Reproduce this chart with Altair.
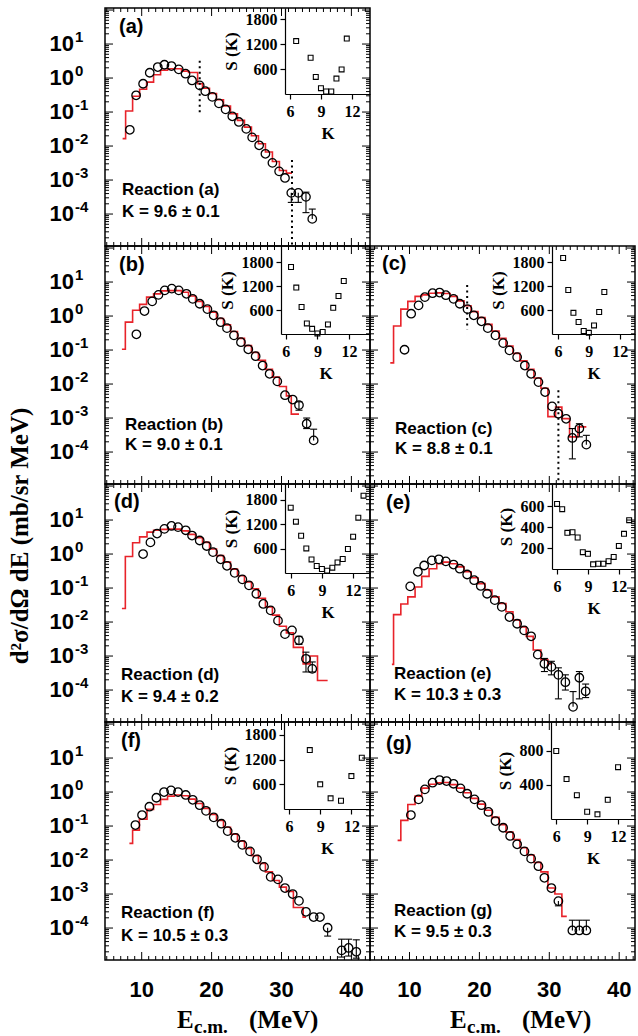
import altair as alt
import pandas as pd

# ---------------- layout constants ----------------
W, H = 265, 238
Y_DOMAIN = [1.148e-5, 114.8]
X_DOMAIN_L = [4.75, 42.66]
X_DOMAIN_R = [4.35, 42.26]
RED = "#e8232a"
SANS = "Liberation Sans"
SERIF = "Liberation Serif"

# ---------------- data ----------------
# (a)
a_e = [8.3, 9.2, 10.2, 11.15, 12.3, 13.25, 14.26, 15.3, 16.27, 17.2, 18.3, 19.1, 20.1, 21.05,
       22.0, 22.96, 23.9, 24.96, 25.8, 26.8, 27.7, 28.7, 29.66, 30.5, 31.4, 32.4, 33.5, 34.4]
a_sig = [0.030, 0.31, 0.68, 1.43, 2.1, 2.46, 2.25, 1.8, 1.34, 0.85, 0.61, 0.41, 0.28, 0.18,
         0.12, 0.075, 0.051, 0.032, 0.018, 0.0105, 0.0059, 0.0032, 0.0018, 0.00115, 4.2e-4, 4.2e-4, 3.2e-4, 7.2e-5]
a_fit_e = [7.27, 7.7, 8.7, 9.7, 10.7, 11.7, 12.7, 13.7, 14.7, 15.7, 16.7, 18.0, 18.7, 19.7, 20.7,
           21.7, 22.7, 23.7, 24.7, 25.7, 26.7, 27.7, 28.7, 29.7, 30.7, 31.5]
a_fit = [0.0165, 0.107, 0.29, 0.47, 0.76, 1.25, 1.7, 1.88, 1.88, 1.6, 1.45, 0.68, 0.5, 0.35, 0.23,
         0.15, 0.089, 0.057, 0.036, 0.020, 0.0117, 0.0067, 0.0035, 0.0019, 0.0016, 0.0016]
a_err_e = [31.4, 32.4, 33.5, 34.4]
a_err_v = [4.2e-4, 4.2e-4, 3.2e-4, 7.2e-5]
a_err_lo = [2.2e-4, 2.2e-4, 1.1e-4, 7.2e-5]
a_err_hi = [4.2e-4, 4.2e-4, 4.4e-4, 1.4e-4]
a_dot_e = [18.3, 31.5]
a_dot_top = [3.2, 0.0039]
a_dot_bot = [0.087, 1.2e-5]
a_K = [6.6, 8.0, 8.5, 9.0, 9.5, 10.0, 10.5, 11.0, 11.5]
a_S = [1270, 870, 410, 140, 60, 60, 370, 590, 1330]

# (b)
b_e = [9.24, 10.4, 11.5, 12.4, 13.3, 14.3, 15.3, 16.4, 17.3, 18.3, 19.4, 20.3, 21.3, 22.2, 23.2,
       24.2, 25.25, 26.3, 27.3, 28.3, 29.4, 30.5, 31.6, 32.5, 33.6, 34.6]
b_sig = [0.29, 1.4, 2.7, 4.2, 5.7, 6.4, 5.7, 4.5, 3.2, 2.3, 1.6, 1.05, 0.66, 0.44, 0.27,
         0.17, 0.105, 0.066, 0.035, 0.020, 0.012, 0.0047, 0.0035, 0.0024, 6.8e-4, 2.2e-4]
b_fit_e = [7.17, 7.66, 8.7, 9.7, 10.7, 11.7, 12.7, 13.7, 14.7, 15.7, 16.7, 17.7, 18.7, 19.7, 20.7,
           21.7, 22.7, 23.7, 24.7, 25.7, 26.7, 27.7, 28.7, 29.7, 30.7, 31.4, 32.5]
b_fit = [0.105, 0.66, 1.48, 2.2, 3.6, 4.5, 5.5, 5.6, 5.6, 5.0, 3.9, 2.7, 1.9, 1.3, 0.85,
         0.55, 0.35, 0.22, 0.135, 0.085, 0.05, 0.027, 0.016, 0.0085, 0.0045, 0.0013, 0.0013]
b_err_e = [32.5, 33.6, 34.6]
b_err_v = [0.0024, 6.8e-4, 2.2e-4]
b_err_lo = [0.0017, 4.9e-4, 2.2e-4]
b_err_hi = [0.0030, 1.0e-3, 4.7e-4]
b_K = [6.5, 7.0, 7.5, 8.0, 8.5, 9.0, 9.5, 10.0, 10.5, 11.0, 11.5]
b_S = [1675, 1160, 675, 265, 130, 15, 50, 240, 655, 950, 1325]

# (c)
c_e = [9.29, 10.24, 11.3, 12.2, 13.3, 14.3, 15.2, 16.3, 17.2, 18.3, 19.2, 20.3, 21.2, 22.3, 23.4,
       24.3, 25.4, 26.5, 27.4, 28.45, 29.4, 30.4, 31.3, 32.4, 33.3, 34.3, 35.3]
c_sig = [0.102, 1.17, 2.06, 3.6, 4.7, 4.9, 4.1, 3.2, 2.3, 1.6, 1.05, 0.70, 0.44, 0.27, 0.16,
         0.098, 0.062, 0.035, 0.020, 0.0114, 0.0058, 0.0022, 0.00134, 9.5e-4, 2.6e-4, 4.9e-4, 1.65e-4]
c_fit_e = [7.25, 7.72, 8.76, 9.76, 10.8, 11.75, 12.8, 13.8, 14.8, 15.8, 16.8, 17.8, 18.8, 19.8, 20.8,
           21.8, 22.8, 23.8, 24.8, 25.8, 26.8, 27.8, 28.8, 29.8, 30.9, 31.8, 32.9, 34.1, 35.3]
c_fit = [0.042, 0.51, 1.6, 2.7, 3.8, 4.2, 4.7, 4.8, 4.6, 3.8, 2.8, 2.0, 1.35, 0.9, 0.57,
         0.36, 0.22, 0.13, 0.08, 0.048, 0.027, 0.015, 0.0075, 0.0011, 0.0021, 0.00096, 0.00028, 0.00055, 0.00055]
c_err_e = [33.3, 34.3, 35.3]
c_err_v = [2.6e-4, 4.9e-4, 1.65e-4]
c_err_lo = [6.3e-5, 2.8e-4, 1.65e-4]
c_err_hi = [4.9e-4, 6.8e-4, 3.1e-4]
c_dot_e = [18.25, 31.3]
c_dot_top = [8.2, 0.0066]
c_dot_bot = [0.41, 1.2e-5]
c_K = [6.5, 7.0, 7.5, 8.0, 8.5, 9.0, 9.5, 10.0, 10.5]
c_S = [1900, 1100, 530, 300, 75, 30, 215, 550, 1050]

# (d)
d_e = [10.2, 11.25, 12.2, 13.25, 14.26, 15.2, 16.3, 17.2, 18.3, 19.3, 20.2, 21.3, 22.2, 23.3, 24.4,
       25.35, 26.4, 27.4, 28.45, 29.5, 30.5, 31.5, 32.5, 33.5, 34.4]
d_sig = [1.0, 2.2, 4.0, 5.5, 6.7, 6.2, 5.0, 3.5, 2.5, 1.72, 1.14, 0.70, 0.45, 0.28, 0.18,
         0.12, 0.068, 0.034, 0.022, 0.011, 0.0044, 0.0057, 0.0029, 8.3e-4, 4.2e-4]
d_fit_e = [7.17, 7.66, 8.7, 9.7, 10.76, 11.7, 12.7, 13.7, 14.7, 15.7, 16.7, 17.7, 18.7, 19.7, 20.7,
           21.7, 22.7, 23.7, 24.7, 25.7, 26.7, 27.7, 28.7, 29.7, 30.7, 31.7, 33.1, 34.1, 35.15, 36.6]
d_fit = [0.025, 0.85, 2.15, 3.2, 4.4, 5.0, 5.3, 5.4, 5.4, 4.8, 3.8, 3.0, 2.2, 1.4, 0.9,
         0.58, 0.36, 0.23, 0.15, 0.095, 0.05, 0.028, 0.016, 0.0075, 0.0048, 0.0018, 0.00059, 0.001, 0.00019, 0.00019]
d_err_e = [32.5, 33.5, 34.4]
d_err_v = [0.0029, 8.3e-4, 4.2e-4]
d_err_lo = [0.0022, 3.4e-4, 3.4e-4]
d_err_hi = [0.0038, 1.3e-3, 6.7e-4]
d_K = [6.0, 6.5, 7.0, 7.5, 8.0, 8.5, 9.0, 9.5, 10.0, 10.5, 11.0, 11.5, 12.0, 12.5, 13.0]
d_S = [1600, 1257, 913, 603, 333, 171, 98, 56, 130, 260, 343, 588, 889, 1354, 1893]

# (e)
e_e = [10.1, 11.2, 12.1, 13.2, 14.2, 15.2, 16.3, 17.2, 18.25, 19.25, 20.2, 21.1, 22.2, 23.2, 24.3,
       25.4, 26.4, 27.4, 28.35, 29.3, 30.3, 31.3, 32.3, 33.4, 34.3, 35.2]
e_sig = [0.112, 0.30, 0.46, 0.65, 0.70, 0.61, 0.49, 0.37, 0.25, 0.17, 0.115, 0.068, 0.044, 0.028, 0.014,
         0.0089, 0.0057, 0.0038, 0.0011, 5.9e-4, 4.8e-4, 2.8e-4, 1.7e-4, 3.2e-5, 2.3e-4, 9.2e-5]
e_fit_e = [7.48, 7.72, 8.76, 9.76, 10.8, 11.75, 12.8, 13.9, 14.8, 15.8, 16.8, 17.8, 18.8, 19.8, 20.8,
           21.8, 22.8, 23.8, 24.8, 25.8, 26.7, 27.7, 28.8, 29.8, 30.4]
e_fit = [0.00057, 0.0165, 0.034, 0.055, 0.107, 0.22, 0.37, 0.52, 0.58, 0.52, 0.42, 0.3, 0.2, 0.135, 0.088,
         0.055, 0.035, 0.02, 0.0115, 0.0072, 0.0038, 0.0015, 0.00079, 0.00059, 0.00059]
e_err_e = [29.3, 30.3, 31.3, 32.3, 33.4, 34.3, 35.2]
e_err_v = [5.9e-4, 4.8e-4, 2.8e-4, 1.7e-4, 3.2e-5, 2.3e-4, 9.2e-5]
e_err_lo = [3.5e-4, 2.8e-4, 5.5e-5, 1.0e-4, 3.2e-5, 5.5e-5, 6.0e-5]
e_err_hi = [8.5e-4, 7.0e-4, 4.5e-4, 2.8e-4, 9.0e-5, 3.5e-4, 1.5e-4]
e_K = [6.0, 6.5, 7.0, 7.5, 8.0, 8.5, 9.0, 9.5, 10.0, 10.5, 11.0, 11.5, 12.0, 12.5, 13.0]
e_S = [620, 570, 345, 350, 300, 160, 145, 45, 50, 50, 75, 115, 220, 335, 465]

# (f)
f_e = [9.1, 10.05, 11.1, 12.1, 13.2, 14.2, 15.2, 16.3, 17.3, 18.3, 19.2, 20.3, 21.4, 22.3, 23.4,
       24.4, 25.5, 26.5, 27.5, 28.45, 29.5, 30.5, 31.6, 32.5, 33.5, 34.6, 35.5, 36.6, 38.6, 39.6, 40.7]
f_sig = [0.107, 0.21, 0.37, 0.68, 1.0, 1.12, 1.0, 0.82, 0.59, 0.41, 0.28, 0.18, 0.117, 0.071, 0.045,
         0.028, 0.018, 0.0105, 0.0063, 0.0032, 0.0027, 0.0015, 0.0010, 6.3e-4, 3.0e-4, 2.1e-4, 2.1e-4,
         1.02e-4, 2.2e-5, 2.6e-5, 2.0e-5]
f_fit_e = [8.24, 8.7, 9.67, 10.76, 11.7, 12.7, 13.7, 14.7, 15.7, 16.7, 17.7, 18.7, 19.7, 20.7, 21.7,
           22.7, 23.7, 24.7, 25.7, 26.7, 27.7, 28.7, 29.7, 30.7, 31.7, 33.1, 33.5]
f_fit = [0.031, 0.076, 0.158, 0.31, 0.43, 0.61, 0.76, 0.82, 0.78, 0.62, 0.46, 0.33, 0.22, 0.145, 0.092,
         0.058, 0.036, 0.022, 0.0135, 0.008, 0.0045, 0.0025, 0.0016, 0.0012, 0.0004, 0.00021, 0.00021]
f_err_e = [36.6, 38.6, 39.6, 40.7]
f_err_v = [1.02e-4, 2.2e-5, 2.6e-5, 2.0e-5]
f_err_lo = [5.8e-5, 1.4e-5, 1.5e-5, 1.3e-5]
f_err_hi = [1.02e-4, 4.7e-5, 4.7e-5, 4.5e-5]
f_K = [8, 9, 10, 11, 12, 13]
f_S = [1430, 600, 260, 200, 800, 1245]

# (g)
g_e = [10.2, 11.3, 12.2, 13.3, 14.3, 15.3, 16.3, 17.3, 18.25, 19.3, 20.3, 21.3, 22.3, 23.4, 24.4,
       25.4, 26.45, 27.4, 28.45, 29.3, 30.3, 31.3, 33.3, 34.3, 35.3]
g_sig = [0.21, 0.61, 1.2, 1.88, 2.25, 2.1, 1.75, 1.28, 0.89, 0.61, 0.41, 0.26, 0.14, 0.089, 0.051,
         0.029, 0.018, 0.011, 0.0066, 0.0030, 0.0015, 6.2e-4, 8.5e-5, 8.5e-5, 8.5e-5]
g_fit_e = [8.3, 8.76, 9.76, 10.8, 11.75, 12.8, 13.8, 14.8, 15.8, 16.8, 17.8, 18.8, 19.8, 20.8, 21.8,
           22.8, 23.8, 24.8, 25.8, 26.8, 27.8, 28.8, 29.8, 30.8, 31.8, 32.5]
g_fit = [0.038, 0.147, 0.43, 0.76, 1.3, 1.7, 1.86, 1.9, 1.65, 1.3, 0.95, 0.65, 0.44, 0.29, 0.18,
         0.11, 0.066, 0.04, 0.023, 0.014, 0.0085, 0.0045, 0.0015, 0.001, 0.00022, 0.00022]
g_err_e = [31.3, 33.3, 34.3, 35.3]
g_err_v = [6.2e-4, 8.5e-5, 8.5e-5, 8.5e-5]
g_err_lo = [4.5e-4, 8.5e-5, 8.5e-5, 8.5e-5]
g_err_hi = [6.2e-4, 1.7e-4, 1.7e-4, 1.7e-4]
g_K = [6, 7, 8, 9, 10, 11, 12]
g_S = [800, 470, 280, 85, 55, 225, 610]

# panel captions
tags = ["(a)", "(b)", "(c)", "(d)", "(e)", "(f)", "(g)"]
reactions = ["Reaction (a)", "Reaction (b)", "Reaction (c)", "Reaction (d)",
             "Reaction (e)", "Reaction (f)", "Reaction (g)"]
k_fits = ["K = 9.6  \u00b1 0.1", "K = 9.0  \u00b1 0.1", "K = 8.8  \u00b1 0.1", "K = 9.4 \u00b1 0.2",
          "K = 10.3 \u00b1 0.3", "K = 10.5 \u00b1 0.3", "K = 9.5 \u00b1 0.3"]

# axis tick positions
x_major = [10, 20, 30, 40]
x_major_labels = ["10", "20", "30", "40"]
x_minor = [5, 6, 7, 8, 9, 11, 12, 13, 14, 15, 16, 17, 18, 19, 21, 22, 23, 24, 25, 26, 27, 28, 29,
           31, 32, 33, 34, 35, 36, 37, 38, 39, 41, 42]
y_major = [1e-4, 1e-3, 1e-2, 1e-1, 1.0, 10.0, 100.0]
y_label_vals = [10.0, 1.0, 1e-1, 1e-2, 1e-3, 1e-4]
y_label_exp = ["1", "0", "-1", "-2", "-3", "-4"]
y_minor = [m * 10.0 ** p for p in range(-5, 2) for m in range(2, 10)
           if Y_DOMAIN[0] <= m * 10.0 ** p <= Y_DOMAIN[1]]


def xenc(field, dom):
    return alt.X(f"{field}:Q", scale=alt.Scale(domain=dom, nice=False, zero=False), axis=None)


def yenc(field):
    return alt.Y(f"{field}:Q", scale=alt.Scale(type="log", domain=Y_DOMAIN, nice=False), axis=None)


def txt(s, x, y, size, font=SANS, align="left", angle=0):
    return alt.Chart(pd.DataFrame({"t": [s]})).mark_text(
        font=font, fontWeight="bold", fontSize=size, align=align, baseline="middle",
        color="black", angle=angle
    ).encode(text="t:N", x=alt.value(x), y=alt.value(y))


def frame_ticks(dom):
    out = []
    for vals, ln in ((x_major, 8), (x_minor, 4)):
        d = pd.DataFrame({"v": vals})
        out.append(alt.Chart(d).mark_rule(color="black", strokeWidth=1).encode(
            x=xenc("v", dom), y=alt.value(H), y2=alt.value(H - ln)))
        out.append(alt.Chart(d).mark_rule(color="black", strokeWidth=1).encode(
            x=xenc("v", dom), y=alt.value(0), y2=alt.value(ln)))
    for vals, ln in ((y_major, 8), (y_minor, 4)):
        d = pd.DataFrame({"v": vals})
        out.append(alt.Chart(d).mark_rule(color="black", strokeWidth=1).encode(
            y=yenc("v"), x=alt.value(0), x2=alt.value(ln)))
        out.append(alt.Chart(d).mark_rule(color="black", strokeWidth=1).encode(
            y=yenc("v"), x=alt.value(W), x2=alt.value(W - ln)))
    return out


def inset(K, S, geom):
    L, B, k0, kpx, smax, sticks = geom
    kmax = k0 + (W - L) / kpx
    ax_common = dict(
        domainColor="black", domainWidth=1.2, tickColor="black", tickWidth=1.2, tickSize=5,
        labelFont=SERIF, labelFontWeight="bold", labelFontSize=16, labelColor="black",
        titleFont=SERIF, titleFontWeight="bold", titleFontSize=17, titleColor="black",
        grid=False, labelFlush=False, labelOverlap=False, format="d",
    )
    return alt.Chart(pd.DataFrame({"k": K, "s": S})).mark_point(
        shape="square", filled=False, color="black", size=24, strokeWidth=1.1, opacity=1
    ).encode(
        x=alt.X("k:Q", scale=alt.Scale(domain=[k0, kmax], range=[L, W], nice=False, zero=False),
                axis=alt.Axis(orient="bottom", offset=-(H - B), values=[6, 9, 12], title="K",
                              labelPadding=4, titlePadding=6, **ax_common)),
        y=alt.Y("s:Q", scale=alt.Scale(domain=[0, smax], range=[B, 0], nice=False, zero=False),
                axis=alt.Axis(orient="left", offset=-L, values=sticks, title="S (K)",
                              labelPadding=3, titlePadding=5, **ax_common)),
    )


def panel(idx, e, sig, fit_e, fit, err, dots, K, S, geom, dom, tagpos, textpos,
          left=False, bottom=False, extra=None):
    layers = []
    layers.append(alt.Chart(pd.DataFrame({"x": fit_e, "y": fit})).mark_line(
        interpolate="step-after", color=RED, strokeWidth=1.6).encode(x=xenc("x", dom), y=yenc("y")))
    if dots:
        de, dt, db = dots
        layers.append(alt.Chart(pd.DataFrame({"x": de, "t": dt, "b": db})).mark_rule(
            color="black", strokeWidth=2, strokeDash=[2, 3.5]).encode(
            x=xenc("x", dom), y=yenc("t"), y2="b:Q"))
    ee, ev, elo, ehi = err
    layers.append(alt.Chart(pd.DataFrame({"x": ee, "lo": elo, "hi": ehi})).mark_rule(
        color="black", strokeWidth=1.1).encode(x=xenc("x", dom), y=yenc("lo"), y2="hi:Q"))
    cx, cy = [], []
    for x, v, lo, hi in zip(ee, ev, elo, ehi):
        if lo < v:
            cx.append(x); cy.append(lo)
        if hi > v:
            cx.append(x); cy.append(hi)
    layers.append(alt.Chart(pd.DataFrame({"x": cx, "y": cy})).mark_rule(
        color="black", strokeWidth=1.1, xOffset=-3.5, x2Offset=3.5).encode(
        x=xenc("x", dom), x2="x:Q", y=yenc("y")))
    layers.append(alt.Chart(pd.DataFrame({"x": e, "y": sig})).mark_point(
        shape="circle", filled=False, color="black", size=72, strokeWidth=1.3, opacity=1).encode(
        x=xenc("x", dom), y=yenc("y")))
    layers += frame_ticks(dom)
    layers.append(txt(tags[idx], tagpos[0], tagpos[1], 20))
    layers.append(txt(reactions[idx], textpos[0], textpos[1], 17))
    layers.append(txt(k_fits[idx], textpos[0], textpos[2], 17))
    if left:
        yl = pd.DataFrame({"v": y_label_vals, "e": y_label_exp})
        layers.append(alt.Chart(yl).mark_text(
            font=SANS, fontWeight="bold", fontSize=22, align="right", baseline="middle", color="black"
        ).encode(x=alt.value(-31), y=yenc("v"), text=alt.value("10")))
        layers.append(alt.Chart(yl).mark_text(
            font=SANS, fontWeight="bold", fontSize=15, align="left", baseline="middle", color="black",
            dy=-7).encode(x=alt.value(-30), y=yenc("v"), text="e:N"))
    if bottom:
        xl = pd.DataFrame({"v": x_major, "t": x_major_labels})
        layers.append(alt.Chart(xl).mark_text(
            font=SANS, fontWeight="bold", fontSize=22, align="center", baseline="middle", color="black"
        ).encode(x=xenc("v", dom), y=alt.value(H + 30), text="t:N"))
    if extra:
        layers += extra
    main = alt.layer(*layers)
    return alt.layer(main, inset(K, S, geom)).resolve_scale(
        x="independent", y="independent").properties(width=W, height=H)


def x_title(x0):
    return [
        txt("E", x0, H + 60, 25, font=SERIF),
        txt("c.m.", x0 + 17, H + 67, 19, font=SERIF),
        txt("(MeV)", x0 + 72, H + 60, 25, font=SERIF),
    ]


y_title = [txt("d\u00b2\u03c3/d\u03a9 dE (mb/sr MeV)", -85, 52, 25, font=SERIF,
               align="center", angle=270)]

pa = panel(0, a_e, a_sig, a_fit_e, a_fit, (a_err_e, a_err_v, a_err_lo, a_err_hi),
           (a_dot_e, a_dot_top, a_dot_bot), a_K, a_S, (180, 86, 5.52, 10.33, 2064, [600, 1200, 1800]),
           X_DOMAIN_L, (14, 19), (17, 182, 204), left=True)
pb = panel(1, b_e, b_sig, b_fit_e, b_fit, (b_err_e, b_err_v, b_err_lo, b_err_hi),
           None, b_K, b_S, (176, 88, 5.55, 10.55, 2200, [600, 1200, 1800]),
           X_DOMAIN_L, (14, 19), (20, 179, 199), left=True)
pc = panel(2, c_e, c_sig, c_fit_e, c_fit, (c_err_e, c_err_v, c_err_lo, c_err_hi),
           (c_dot_e, c_dot_top, c_dot_bot), c_K, c_S, (182, 88, 5.42, 10.3, 2200, [600, 1200, 1800]),
           X_DOMAIN_R, (12, 18), (25, 183, 203))
pd_ = panel(3, d_e, d_sig, d_fit_e, d_fit, (d_err_e, d_err_v, d_err_lo, d_err_hi),
            None, d_K, d_S, (180, 89, 5.45, 10.4, 2180, [600, 1200, 1800]),
            X_DOMAIN_L, (9, 18), (16, 191, 213), left=True, extra=y_title)
pe = panel(4, e_e, e_sig, e_fit_e, e_fit, (e_err_e, e_err_v, e_err_lo, e_err_hi),
           None, e_K, e_S, (182, 85, 5.51, 10.3, 810, [200, 400, 600]),
           X_DOMAIN_R, (16, 19), (24, 190, 211))
pf = panel(5, f_e, f_sig, f_fit_e, f_fit, (f_err_e, f_err_v, f_err_lo, f_err_hi),
           None, f_K, f_S, (179, 87, 5.52, 10.4, 2113, [600, 1200, 1800]),
           X_DOMAIN_L, (16, 19), (16, 191, 214), left=True, bottom=True, extra=x_title(72))
pg = panel(6, g_e, g_sig, g_fit_e, g_fit, (g_err_e, g_err_v, g_err_lo, g_err_hi),
           None, g_K, g_S, (181, 97, 5.49, 10.3, 1141, [400, 800]),
           X_DOMAIN_R, (16, 22), (24, 189, 210), bottom=True, extra=x_title(80))

blank = alt.Chart(pd.DataFrame({"v": [0]})).mark_point(opacity=0).encode(
    x=alt.value(0), y=alt.value(0)).properties(width=W, height=H, view=alt.ViewBackground(strokeOpacity=0))

chart = alt.concat(pa, blank, pb, pc, pd_, pe, pf, pg, columns=2).properties(
    spacing=0, bounds="flush", padding={"left": 7, "top": 5, "right": 0, "bottom": 0}
).configure_view(stroke="black", strokeWidth=1.5)

chart.save("out.html", embed_options={"renderer": "svg", "actions": False})
